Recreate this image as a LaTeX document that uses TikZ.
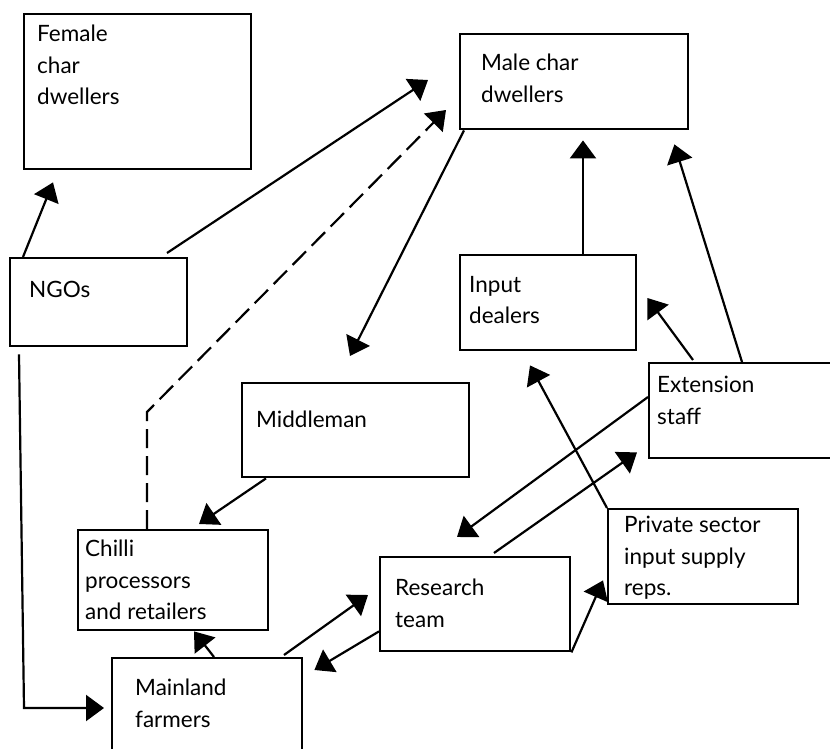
\documentclass[tikz,border=0pt]{standalone}
\usepackage{fontspec}
\setmainfont{Lato}
\usetikzlibrary{arrows.meta}
\tikzset{
  box/.style={draw, line width=2.4pt, rectangle, anchor=north west, inner sep=0pt},
  lbl/.style={anchor=north west, inner sep=0pt, align=left,
    font=\fontsize{22.5}{31.5}\selectfont},
  link/.style={line width=2.2pt, -{Triangle[length=18pt,width=26pt]}},
  dlink/.style={link, dash pattern=on 19pt off 8pt},
}
\begin{document}
\begin{tikzpicture}[x=1pt,y=-1pt]
\clip (0,0) rectangle (830,749);
\fill[white] (0,0) rectangle (830,749);

% boxes
\node[box, minimum width=227pt, minimum height=155pt] (fem) at (23,13) {};
\node[box, minimum width=228pt, minimum height=95pt]  (male) at (459,33) {};
\node[box, minimum width=177pt, minimum height=88pt]  (ngo) at (9,257) {};
\node[box, minimum width=176pt, minimum height=95pt]  (inp) at (459,254) {};
\node[box, minimum width=200pt, minimum height=95pt]  (ext) at (648,362) {};
\node[box, minimum width=227pt, minimum height=94pt]  (mid) at (241,382) {};
\node[box, minimum width=190pt, minimum height=100pt] (chl) at (77,529) {};
\node[box, minimum width=190pt, minimum height=120pt] (mnl) at (111,657) {};
\node[box, minimum width=190pt, minimum height=94pt]  (res) at (379,556) {};
\node[box, minimum width=190pt, minimum height=95pt]  (prv) at (607,508) {};

% texts
\node[lbl] (fem-t)  at ([shift={(14,12)}]fem.north west)  {Female\\char\\dwellers};
\node[lbl] (male-t) at ([shift={(22,21)}]male.north west) {Male char\\dwellers};
\node[lbl] (ngo-t)  at ([shift={(20,24)}]ngo.north west)  {NGOs};
\node[lbl] (inp-t)  at ([shift={(10,22)}]inp.north west)  {Input\\dealers};
\node[lbl] (ext-t)  at ([shift={(9,14)}]ext.north west)   {Extension\\staff};
\node[lbl] (mid-t)  at ([shift={(15,29)}]mid.north west)  {Middleman};
\node[lbl] (chl-t)  at ([shift={(8,11)}]chl.north west)   {Chilli\\processors\\and retailers};
\node[lbl] (mnl-t)  at ([shift={(24,22)}]mnl.north west)  {Mainland\\farmers};
\node[lbl] (res-t)  at ([shift={(16,23)}]res.north west)  {Research\\team};
\node[lbl] (prv-t)  at ([shift={(17,8)}]prv.north west)   {Private sector\\input supply\\reps.};

% corner points of the bent connectors
\coordinate (dbend) at (147,412);
\coordinate (nbend) at (24,708);

% connectors
\draw[link] ([shift={(14,0)}]ngo.north west) -- ([shift={(30,12)}]fem.south west);
\draw[link] ([shift={(158,-4)}]ngo.north west) -- ([shift={(-31,47)}]male.north west);
\draw[dlink] ([shift={(70,0)}]chl.north west) -- (dbend) -- ([shift={(-13,77)}]male.north west);
\draw[link] ([shift={(5,0)}]male.south west) -- ([shift={(109,-26)}]mid.north west);
\draw[link] ([shift={(124,0)}]inp.north west) -- ([shift={(124,10)}]male.south west);
\draw[link] ([shift={(94,0)}]ext.north west) -- ([shift={(-15,14)}]male.south east);
\draw[link] ([shift={(45,-2)}]ext.north west) -- ([shift={(10,44)}]inp.north east);
\draw[link] (prv.north west) -- ([shift={(71,14)}]inp.south west);
\draw[link] ([shift={(0,35)}]ext.north west) -- ([shift={(78,-19)}]res.north west);
\draw[link] ([shift={(115,-3)}]res.north west) -- ([shift={(-11,-7)}]ext.south west);
\draw[link] (res.south east) -- ([shift={(-4,-25)}]prv.south west);
\draw[link] ([shift={(25,0)}]mid.south west) -- ([shift={(122,-5)}]chl.north west);
\draw[link] ([shift={(103,0)}]mnl.north west) -- ([shift={(117,0)}]chl.south west);
\draw[link] ([shift={(173,-2)}]mnl.north west) -- ([shift={(-11,39)}]res.north west);
\draw[link] ([shift={(0,-21)}]res.south west) -- ([shift={(11,13)}]mnl.north east);
\draw[link] ([shift={(10,7)}]ngo.south west) -- (nbend) -- ([shift={(-7,51)}]mnl.north west);
\end{tikzpicture}
\end{document}
